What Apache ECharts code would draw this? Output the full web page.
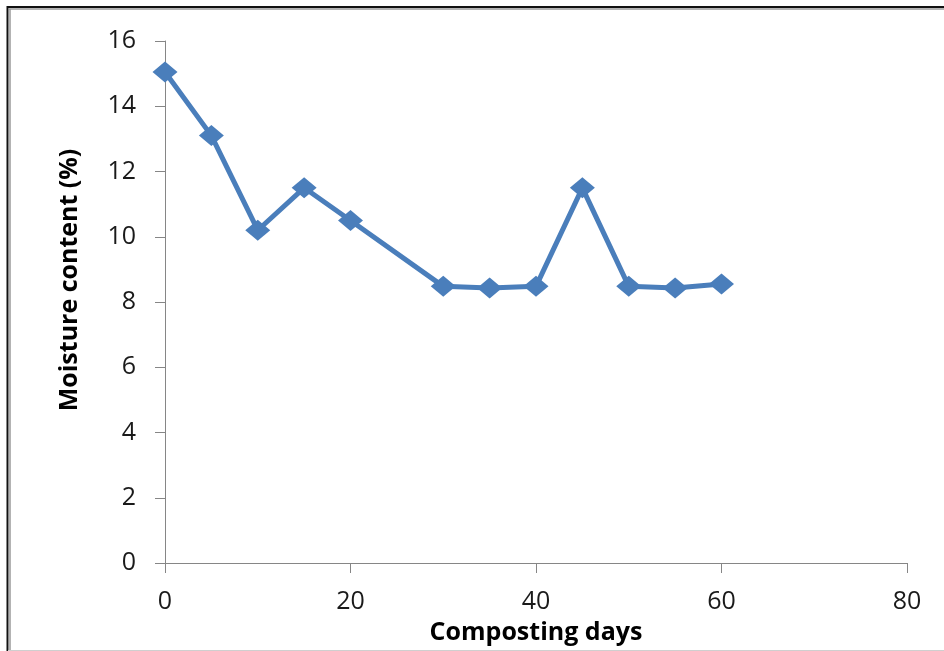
<!DOCTYPE html>
<html>
<head>
<meta charset="utf-8">
<script src="https://cdn.jsdelivr.net/npm/echarts@6/dist/echarts.min.js"></script>
<style>
html,body{margin:0;padding:0;background:#fff;}
#c{width:944px;height:651px;}
</style>
</head>
<body>
<div id="c"></div>
<script>
var days = [0, 5, 10, 15, 20, 30, 35, 40, 45, 50, 55, 60];
var moisture = [15.05, 13.1, 10.2, 11.5, 10.5, 8.48, 8.43, 8.48, 11.5, 8.48, 8.43, 8.55];
var xTicks = [0, 20, 40, 60, 80];
var yTicks = [0, 2, 4, 6, 8, 10, 12, 14, 16];
var xTitle = 'Composting days';
var yTitle = 'Moisture content (%)';

var chart = echarts.init(document.getElementById('c'), null, {renderer: 'canvas'});
var axisCol = '#868686';
var font = '"Open Sans", "Noto Sans", sans-serif';
chart.setOption({
  animation: false,
  backgroundColor: '#ffffff',
  grid: {left: 165, right: 37, top: 41, bottom: 88, containLabel: false},
  xAxis: {
    type: 'value', min: xTicks[0], max: xTicks[xTicks.length - 1], interval: 20,
    name: xTitle, nameLocation: 'middle', nameGap: 57,
    nameTextStyle: {fontFamily: font, fontWeight: 'bold', fontSize: 25, color: '#000'},
    axisLine: {show: true, onZero: false, lineStyle: {color: axisCol, width: 1}},
    axisTick: {show: true, length: 10, lineStyle: {color: axisCol}},
    axisLabel: {fontFamily: font, fontSize: 25, color: '#1a1a1a', margin: 26},
    splitLine: {show: false}
  },
  yAxis: {
    type: 'value', min: yTicks[0], max: yTicks[yTicks.length - 1], interval: 2,
    name: yTitle, nameLocation: 'middle', nameGap: 83, nameRotate: 90,
    nameTextStyle: {fontFamily: font, fontWeight: 'bold', fontSize: 25, color: '#000', padding: [0, 0, 0, 44]},
    axisLine: {show: true, lineStyle: {color: axisCol, width: 1}},
    axisTick: {show: true, length: 10, lineStyle: {color: axisCol}},
    axisLabel: {fontFamily: font, fontSize: 25, color: '#1a1a1a', margin: 29},
    splitLine: {show: false}
  },
  graphic: [
    {type: 'line', shape: {x1: 7, y1: 7, x2: 944, y2: 7}, style: {stroke: '#111', lineWidth: 2}, z: 100},
    {type: 'line', shape: {x1: 9, y1: 9, x2: 944, y2: 9}, style: {stroke: '#9a9a9a', lineWidth: 1.5}, z: 100},
    {type: 'line', shape: {x1: 7.5, y1: 6, x2: 7.5, y2: 651}, style: {stroke: '#111', lineWidth: 2}, z: 100},
    {type: 'line', shape: {x1: 10, y1: 9, x2: 10, y2: 651}, style: {stroke: '#9a9a9a', lineWidth: 1.5}, z: 100},
    {type: 'line', shape: {x1: 8, y1: 650.5, x2: 944, y2: 650.5}, style: {stroke: '#cfcfcf', lineWidth: 1}, z: 100}
  ],
  series: [{
    type: 'line',
    data: days.map(function (d, i) { return [d, moisture[i]]; }),
    symbol: 'diamond',
    symbolSize: [25, 21],
    lineStyle: {color: '#4a7ebb', width: 5},
    itemStyle: {color: '#4a7ebb'},
    clip: false
  }]
});
</script>
</body>
</html>
